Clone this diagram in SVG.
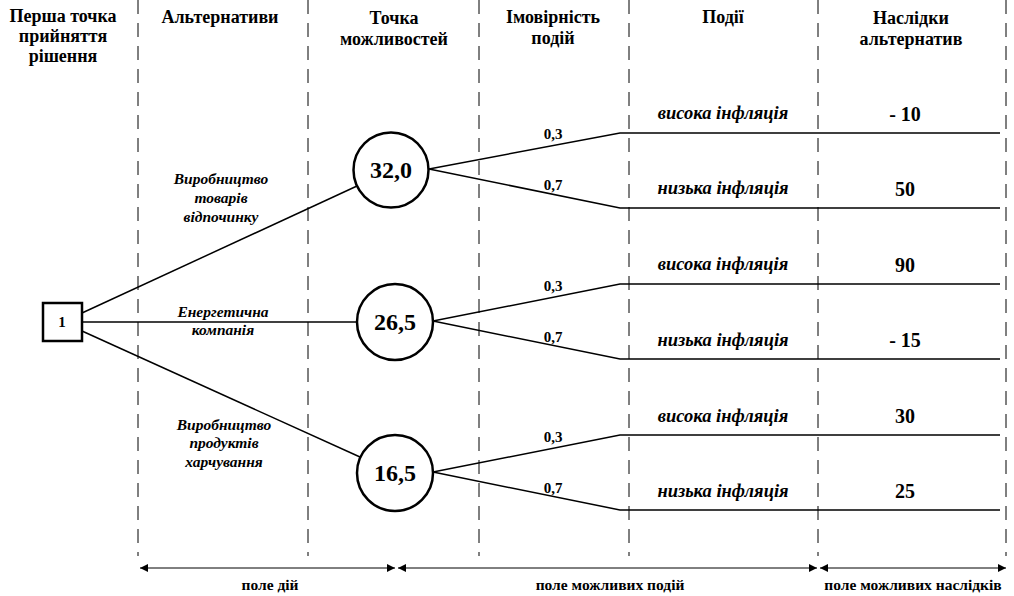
<svg xmlns="http://www.w3.org/2000/svg" width="1014" height="596" viewBox="0 0 1014 596" font-family="'Liberation Serif', 'Times New Roman', 'DejaVu Serif', serif">
<style>
  text { font-family: 'Liberation Serif', 'Times New Roman', 'DejaVu Serif', serif; fill: #000; text-anchor: middle; }
  .hdr { font-size: 18px; font-weight: bold; }
  .alt { font-size: 15.5px; font-weight: bold; font-style: italic; }
  .ev { font-size: 18.5px; font-weight: bold; font-style: italic; }
  .out { font-size: 20px; font-weight: bold; }
  .prob { font-size: 15px; font-weight: bold; }
  .val { font-size: 24px; font-weight: bold; }
  .fld { font-size: 15.5px; font-weight: bold; }
  .dash { stroke: #000; stroke-width: 1; stroke-dasharray: 14 9; fill: none; }
  .conn { stroke: #000; stroke-width: 1.5; fill: none; }
  .node { stroke: #000; stroke-width: 2.5; fill: #fff; }
  .arr { stroke: #000; stroke-width: 1; fill: none; marker-start: url(#ah); marker-end: url(#ah); }
</style>
<defs>
  <marker id="ah" viewBox="0 0 10 10" refX="10" refY="5" markerWidth="10" markerHeight="8" markerUnits="userSpaceOnUse" orient="auto-start-reverse">
    <path d="M0,0 L10,5 L0,10 Z" fill="#000"/>
  </marker>
</defs>
<rect width="1014" height="596" fill="#fff"/>

<g id="grid">
  <line class="dash" x1="138" y1="0" x2="138" y2="556"/>
  <line class="dash" x1="308" y1="0" x2="308" y2="556"/>
  <line class="dash" x1="479" y1="0" x2="479" y2="556"/>
  <line class="dash" x1="629" y1="0" x2="629" y2="556"/>
  <line class="dash" x1="818" y1="0" x2="818" y2="556"/>
  <line class="dash" x1="1006" y1="0" x2="1006" y2="556"/>
</g>

<g id="headers">
  <text class="hdr" x="63" y="22">Перша точка</text>
  <text class="hdr" x="63" y="42">прийняття</text>
  <text class="hdr" x="63" y="62">рішення</text>
  <text class="hdr" x="220" y="23">Альтернативи</text>
  <text class="hdr" x="394" y="24">Точка</text>
  <text class="hdr" x="394" y="45">можливостей</text>
  <text class="hdr" x="553" y="23">Імовірність</text>
  <text class="hdr" x="553" y="44">подій</text>
  <text class="hdr" x="723" y="23">Події</text>
  <text class="hdr" x="911" y="24">Наслідки</text>
  <text class="hdr" x="911" y="45">альтернатив</text>
</g>

<g id="connectors">
  <line class="conn" x1="82" y1="313" x2="357" y2="186"/>
  <line class="conn" x1="82" y1="322" x2="357" y2="322"/>
  <line class="conn" x1="82" y1="331" x2="360" y2="457"/>
  <polyline class="conn" points="429,169 620,133 1000,133"/>
  <polyline class="conn" points="429,169 620,208 1000,208"/>
  <polyline class="conn" points="433,321 620,284 1000,284"/>
  <polyline class="conn" points="433,321 620,359 1000,359"/>
  <polyline class="conn" points="433,472 620,435 1000,435"/>
  <polyline class="conn" points="433,472 620,510 1000,510"/>
</g>

<g id="decision">
  <rect class="node" x="43" y="303" width="39" height="38"/>
  <text x="62" y="327" style="font-size:15px;font-weight:bold">1</text>
</g>

<g id="chance1">
  <circle class="node" cx="391" cy="170" r="37.5"/>
  <text class="val" x="391" y="178">32,0</text>
</g>
<g id="chance2">
  <circle class="node" cx="395" cy="322" r="38"/>
  <text class="val" x="395" y="330">26,5</text>
</g>
<g id="chance3">
  <circle class="node" cx="395" cy="473" r="38"/>
  <text class="val" x="395" y="481">16,5</text>
</g>

<g id="alt-labels">
  <text class="alt" x="221" y="184">Виробництво</text>
  <text class="alt" x="221" y="203">товарів</text>
  <text class="alt" x="221" y="222">відпочинку</text>
  <text class="alt" x="223" y="317">Енергетична</text>
  <text class="alt" x="223" y="335">компанія</text>
  <text class="alt" x="224" y="430">Виробництво</text>
  <text class="alt" x="224" y="448">продуктів</text>
  <text class="alt" x="224" y="467">харчування</text>
</g>

<g id="probabilities">
  <text class="prob" x="553" y="139">0,3</text>
  <text class="prob" x="553" y="190">0,7</text>
  <text class="prob" x="553" y="291">0,3</text>
  <text class="prob" x="553" y="342">0,7</text>
  <text class="prob" x="553" y="442">0,3</text>
  <text class="prob" x="553" y="493">0,7</text>
</g>

<g id="events">
  <text class="ev" x="723" y="119">висока інфляція</text>
  <text class="ev" x="723" y="194">низька інфляція</text>
  <text class="ev" x="723" y="270">висока інфляція</text>
  <text class="ev" x="723" y="346">низька інфляція</text>
  <text class="ev" x="723" y="422">висока інфляція</text>
  <text class="ev" x="723" y="497">низька інфляція</text>
</g>

<g id="outcomes">
  <text class="out" x="905" y="121">- 10</text>
  <text class="out" x="905" y="196">50</text>
  <text class="out" x="905" y="272">90</text>
  <text class="out" x="905" y="347">- 15</text>
  <text class="out" x="905" y="423">30</text>
  <text class="out" x="905" y="498">25</text>
</g>

<g id="fields">
  <line class="arr" x1="140" y1="568" x2="395" y2="568"/>
  <line class="arr" x1="398" y1="568" x2="817" y2="568"/>
  <line class="arr" x1="820" y1="568" x2="1006" y2="568"/>
  <text class="fld" x="270" y="590">поле дій</text>
  <text class="fld" x="610" y="590">поле можливих подій</text>
  <text class="fld" x="913" y="590">поле можливих наслідків</text>
</g>
</svg>
